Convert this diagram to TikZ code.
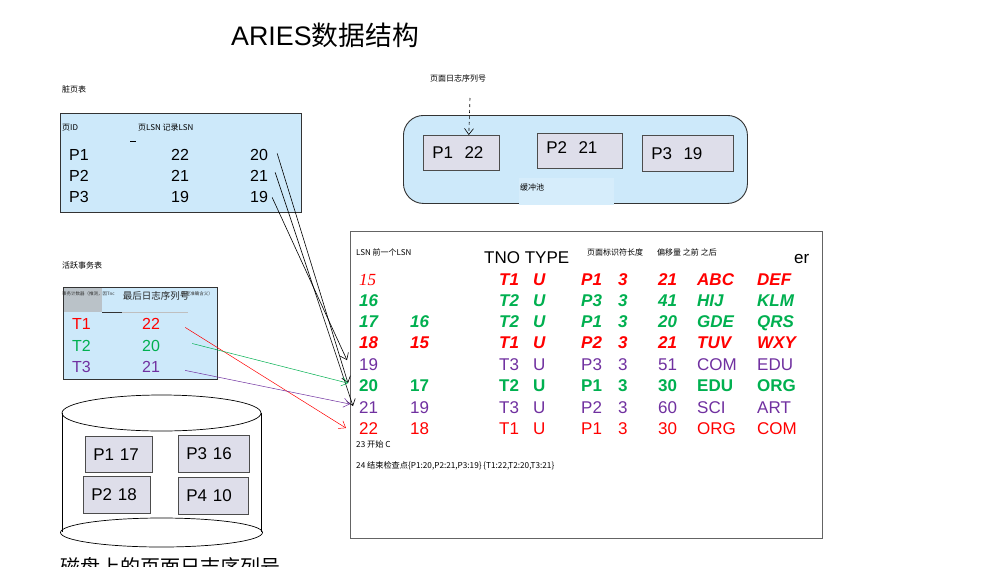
\documentclass[tikz,border=0pt]{standalone}
\usepackage{fontspec}
\setmainfont{Liberation Sans}
\newfontfamily\cjk{Noto Sans CJK SC}
\newfontfamily\serifit{Liberation Serif}
\usetikzlibrary{arrows.meta}
\definecolor{lblue}{RGB}{205,233,250}
\definecolor{lblueB}{RGB}{214,237,251}
\definecolor{pgrey}{RGB}{222,222,234}
\definecolor{hgrey}{RGB}{186,194,200}
\definecolor{myred}{RGB}{255,0,0}
\definecolor{mygreen}{RGB}{0,176,80}
\definecolor{mypurple}{RGB}{112,48,160}
\definecolor{bordergrey}{RGB}{100,100,100}
\newcommand\logrow[9]{%
  \node[#1,lsn] (L#3) at (359,#2) {#3};
  \node[#1] (Q#3) at (410,#2) {#4};
  \node[#1] (N#3) at (499,#2) {#5};
  \node[#1] (Y#3) at (533,#2) {U};
  \node[#1] (G#3) at (581,#2) {#6};
  \node[#1] (E#3) at (618,#2) {3};
  \node[#1] (O#3) at (658,#2) {#7};
  \node[#1] (B#3) at (697,#2) {#8};
  \node[#1] (A#3) at (757,#2) {#9};
}
\begin{document}
\begin{tikzpicture}[x=1pt,y=-1pt,
  cell/.style={anchor=base west, inner sep=0pt, font=\fontsize{17}{20}\selectfont},
  mid/.style={anchor=base west, inner sep=0pt, font=\fontsize{16}{19}\selectfont},
  lsn/.style={},
  rbi/.style={cell, text=myred, font=\fontsize{17}{20}\selectfont\bfseries\itshape},
  gbi/.style={cell, text=mygreen, font=\fontsize{17}{20}\selectfont\bfseries\itshape},
  gb/.style={cell, text=mygreen, font=\fontsize{17}{20}\selectfont\bfseries},
  pr/.style={cell, text=mypurple},
  rr/.style={cell, text=myred},
  small/.style={anchor=base west, inner sep=0pt, font=\cjk\fontsize{8}{10}\selectfont},
  note/.style={anchor=base west, inner sep=0pt, font=\cjk\fontsize{8.2}{10}\selectfont},
  tiny/.style={inner sep=0pt, font=\cjk\fontsize{4.5}{5}\selectfont, text=black!80},
  tbl/.style={draw=black!80, fill=lblue, line width=0.9pt},
  pagebox/.style={draw=black!70, fill=pgrey, line width=0.8pt, anchor=north west,
     inner xsep=9pt, inner ysep=0pt, align=left, font=\fontsize{17}{20}\selectfont},
  arr/.style={-{Straight Barb[length=6pt,width=9pt]}, line width=0.6pt}
]
\useasboundingbox (0,0) rectangle (1007,566);
\fill[white] (0,0) rectangle (1007,566);

% title
\node[anchor=base west, inner sep=0pt, font=\fontsize{26.8}{30}\selectfont] (title) at (231,45) {ARIES{\cjk 数据结构}};

% ---------- dirty page table ----------
\node[small] (dptlabel) at (62,92) {脏页表};
\node[tbl, anchor=north west, minimum width=241pt, minimum height=99pt, inner sep=0pt] (dpt) at (60,113) {};
\node[small] (dh1) at (62,130) {页ID};
\node[small] (dh2) at (138,130) {页LSN 记录LSN};
\draw[line width=0.8pt] (130,141) -- (136,141);
\node[mid] (d1a) at (69,160) {P1};
\node[mid] (d1b) at (171,160) {22};
\node[mid] (d1c) at (250,160) {20};
\node[mid] (d2a) at (69,181) {P2};
\node[mid] (d2b) at (171,181) {21};
\node[mid] (d2c) at (250,181) {21};
\node[mid] (d3a) at (69,202) {P3};
\node[mid] (d3b) at (171,202) {19};
\node[mid] (d3c) at (250,202) {19};

% ---------- buffer pool ----------
\node[small] (bplabel) at (430,81) {页面日志序列号};
\node[draw=black!80, fill=lblue, line width=0.9pt, rounded corners=20pt, anchor=north west,
      minimum width=344pt, minimum height=88pt, inner sep=0pt] (pool) at (403,115) {};
\node[fill=lblueB, anchor=north west, minimum width=95pt, minimum height=27pt, inner sep=0pt] (poolhl) at (519,178) {};
\node[small] (poollabel) at (520,190) {缓冲池};
\node[pagebox, text width=58pt, minimum height=35pt] (bp1) at (423,135) {P1~~22};
\node[pagebox, text width=67pt, minimum height=35pt, text depth=6pt] (bp2) at (537,133) {P2~~21};
\node[pagebox, text width=73pt, minimum height=36pt] (bp3) at (642,135) {P3~~19};
\coordinate (dashtop) at (470,98);
\draw[arr, dashed] (dashtop) -- ([xshift=-31pt]bp1.north east);

% ---------- active transaction table ----------
\node[small] (attlabel) at (62,268) {活跃事务表};
\node[tbl, anchor=north west, minimum width=154pt, minimum height=92pt, inner sep=0pt] (att) at (63,287) {};
\fill[hgrey] (64,288) rectangle (102,312);
\draw[black!80, line width=1pt] (102,312) -- (122,312);
\draw[black!25, line width=0.8pt] (122,312) -- (188,312);
\node[tiny, anchor=west] (tinyl) at (62,294) {事务计数器（推测，因Tnc};
\node[tiny, anchor=east] (tinyr) at (213,294) {确定准确含义）};
\node[inner sep=0pt, font=\cjk\fontsize{9.5}{11}\selectfont, text=black!85] (atthead) at (156,296) {最后日志序列号};
\node[mid, text=myred] (a1t) at (72,329) {T1};
\node[mid, text=myred] (a1v) at (142,329) {22};
\node[mid, text=mygreen] (a2t) at (72,351) {T2};
\node[mid, text=mygreen] (a2v) at (142,351) {20};
\node[mid, text=mypurple] (a3t) at (72,372) {T3};
\node[mid, text=mypurple] (a3v) at (142,372) {21};

% ---------- disk ----------
\draw[line width=0.7pt] (62,413) -- (62,532);
\draw[line width=0.7pt] (261,413) -- (261,532);
\draw[line width=0.7pt] (161.5,413) ellipse [x radius=99.5pt, y radius=18pt];
\draw[line width=0.7pt] (161.5,532.5) ellipse [x radius=101pt, y radius=14.5pt];
\node[pagebox, inner xsep=8pt, text width=51pt, minimum height=36pt] (dk1) at (85,436) {P1 17};
\node[pagebox, inner xsep=8pt, text width=55pt, minimum height=37pt] (dk3) at (178,435) {P3 16};
\node[pagebox, inner xsep=8pt, text width=51pt, minimum height=37pt] (dk2) at (83,476) {P2 18};
\node[pagebox, inner xsep=8pt, text width=54pt, minimum height=37pt] (dk4) at (178,477) {P4 10};
\node[anchor=base west, inner sep=0pt, font=\cjk\fontsize{20}{24}\selectfont] (disklabel) at (60,574) {磁盘上的页面日志序列号};

% ---------- log table ----------
\node[draw=bordergrey, fill=white, line width=1.4pt, anchor=north west, minimum width=472pt,
      minimum height=307pt, inner sep=0pt] (log) at (350,231) {};
\node[small] (lh1) at (356,255) {LSN 前一个LSN};
\node[cell] (lh2) at (484,263) {TNO TYPE};
\node[small] (lh3) at (587,255) {页面标识符长度};
\node[small] (lh4) at (657,255) {偏移量 之前 之后};
\node[cell] (lh5) at (794,263) {er};

\tikzset{lsn/.style={font=\fontsize{17}{20}\serifit\itshape\selectfont}}
\logrow{rbi}{285}{15}{}{T1}{P1}{21}{ABC}{DEF}
\tikzset{lsn/.style={}}
\logrow{gbi}{306}{16}{}{T2}{P3}{41}{HIJ}{KLM}
\logrow{gbi}{327}{17}{16}{T2}{P1}{20}{GDE}{QRS}
\logrow{rbi}{348}{18}{15}{T1}{P2}{21}{TUV}{WXY}
\logrow{pr}{370}{19}{}{T3}{P3}{51}{COM}{EDU}
\logrow{gb}{391}{20}{17}{T2}{P1}{30}{EDU}{ORG}
\logrow{pr}{413}{21}{19}{T3}{P2}{60}{SCI}{ART}
\logrow{rr}{434}{22}{18}{T1}{P1}{30}{ORG}{COM}

\node[note] (n23) at (356,447) {23 开始 C};
\node[note] (n24) at (356,468) {24 结束检查点\{P1:20,P2:21,P3:19\} \{T1:22,T2:20,T3:21\}};

% ---------- connectors ----------
\draw[arr] ([shift={(9,-1)}]d1c.east) -- ([shift={(-11,-2)}]L20.west);
\draw[arr] ([shift={(7,-3)}]d2c.east) -- ([shift={(-6,-1)}]L21.west);
\draw[arr] ([shift={(4,1)}]d3c.east) -- ([shift={(-12,-4)}]L19.west);
\draw[arr, myred, line width=0.5pt] ([shift={(25,4)}]a1v.east) -- ([shift={(-13,0)}]L22.west);
\draw[arr, mygreen, line width=0.5pt] ([shift={(32,-2)}]a2v.east) -- ([shift={(-11,-2)}]L20.west);
\draw[arr, mypurple, line width=0.5pt] ([shift={(25,4)}]a3v.east) -- ([shift={(-9,-3)}]L21.west);
\end{tikzpicture}
\end{document}
